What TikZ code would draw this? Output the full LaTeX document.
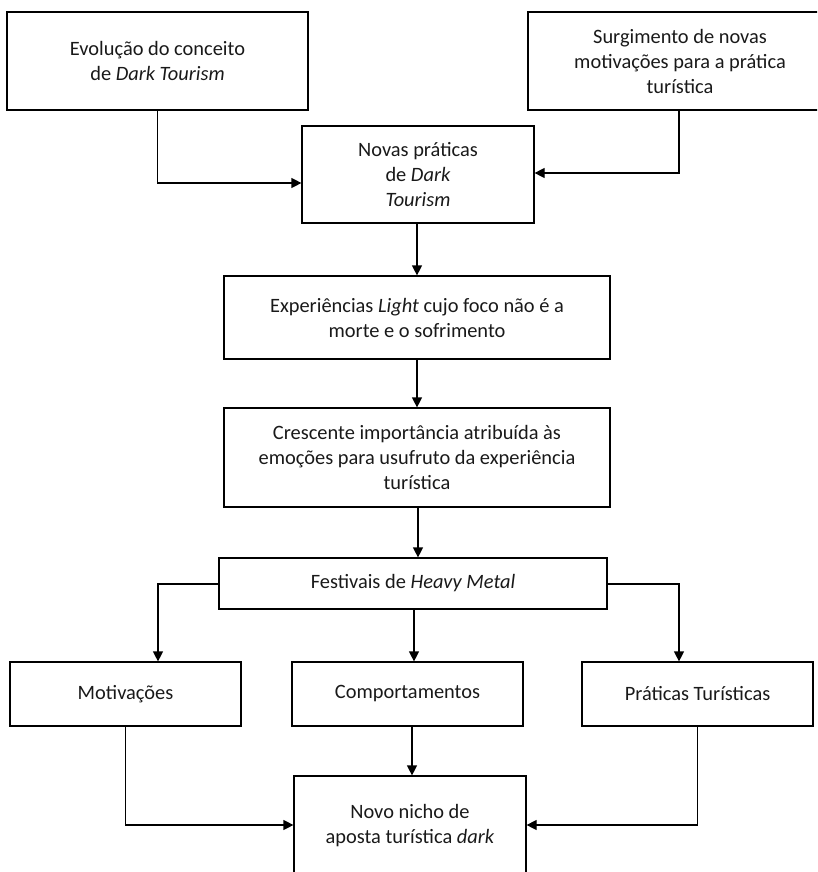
\documentclass[tikz,border=0pt]{standalone}
\usepackage{fontspec}
\setmainfont{Carlito}
\usetikzlibrary{arrows.meta}
\tikzset{
  box/.style={draw=black, line width=1.2pt, align=center, inner sep=2pt,
    font=\fontsize{20.4pt}{25pt}\selectfont, text=black!90},
  arr/.style={draw=black, line width=1.2pt, -{Triangle[length=10pt,width=10pt]}},
}
\begin{document}
\begin{tikzpicture}[x=1pt,y=1pt]
\useasboundingbox (0,0) rectangle (817,-872);
\clip (0,0) rectangle (817,-872);
\node[box, minimum width=301pt, minimum height=98pt] (b1) at (157.5,-61) {Evolução do conceito\\de \textit{Dark Tourism}};
\node[box, minimum width=304pt, minimum height=98pt] (b2) at (680,-61) {Surgimento de novas\\motivações para a prática\\turística};
\node[box, minimum width=232pt, minimum height=97pt] (novas) at (418,-174.5) {Novas práticas\\de \textit{Dark}\\\textit{Tourism}};
\node[box, minimum width=386pt, minimum height=83pt] (b4) at (417,-317.5) {Experiências \textit{Light} cujo foco não é a\\morte e o sofrimento};
\node[box, minimum width=386pt, minimum height=99pt] (b5) at (417,-457.5) {Crescente importância atribuída às\\emoções para usufruto da experiência\\turística};
\node[box, minimum width=388pt, minimum height=51pt] (fest) at (413,-583.5) {Festivais de \textit{Heavy Metal}};
\node[box, minimum width=231pt, minimum height=64pt] (mot) at (125.5,-694) {Motivações};
\node[box, minimum width=231pt, minimum height=64pt] (comp) at (407.5,-694) {Comportamentos};
\node[box, minimum width=231pt, minimum height=64pt] (prat) at (697.5,-694) {Práticas Turísticas};
\node[box, minimum width=232pt, minimum height=100pt] (novo) at (410,-826) {Novo nicho de\\aposta turística \textit{dark}};

\draw[arr] (b1.south) |- ([yshift=-8.5pt]novas.west);
\draw[arr] ([xshift=-1pt]b2.south) |- ([yshift=1.5pt]novas.east);
\draw[arr] ([xshift=-1pt]novas.south) -- ([xshift=-1pt]novas.south |- b4.north);
\draw[arr] (b4.south) -- (b5.north);
\draw[arr] ([xshift=1pt]b5.south) -- ([xshift=1pt]b5.south |- fest.north);
\draw[arr] ([yshift=-0.5pt]fest.west) -| ([xshift=32.5pt]mot.north);
\draw[arr] ([xshift=1pt]fest.south) -- ([xshift=1pt]fest.south |- comp.north);
\draw[arr] ([yshift=-0.5pt]fest.east) -| ([xshift=-18.5pt]prat.north);
\draw[arr] (mot.south) |- ([yshift=1pt]novo.west);
\draw[arr] ([xshift=4.5pt]comp.south) -- ([xshift=4.5pt]comp.south |- novo.north);
\draw[arr] (prat.south) |- ([yshift=1pt]novo.east);
\end{tikzpicture}
\end{document}
